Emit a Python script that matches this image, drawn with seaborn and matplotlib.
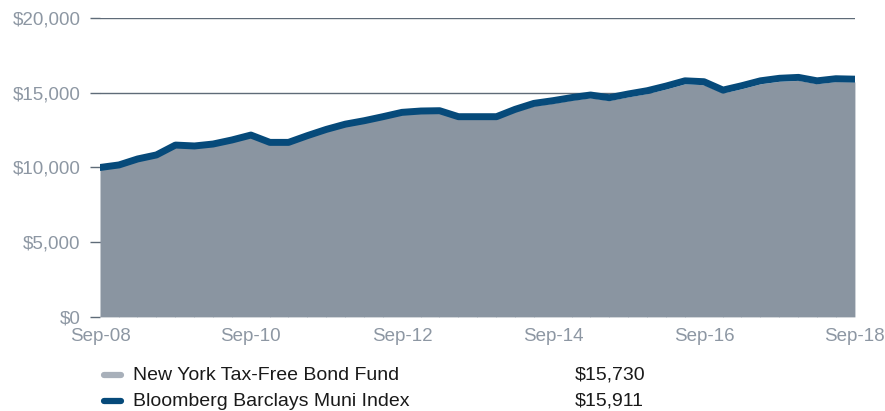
import pandas as pd
import numpy as np
import matplotlib
matplotlib.use("Agg")
import matplotlib.pyplot as plt
import matplotlib.dates as mdates
import seaborn as sns
from matplotlib.lines import Line2D
from matplotlib.ticker import FuncFormatter, MultipleLocator

# growth of $10,000, quarterly, Sep-08 .. Sep-18
quarters = pd.date_range("2008-09-30", "2018-09-30", freq="QE-SEP")
index_vals = [10000, 10170, 10570, 10840, 11500, 11440, 11570, 11840, 12170, 11680,
              11680, 12130, 12550, 12900, 13130, 13400, 13690, 13780, 13800, 13400,
              13400, 13400, 13890, 14290, 14470, 14680, 14850, 14670, 14920, 15140,
              15450, 15800, 15740, 15180, 15470, 15800, 15970, 16030, 15800, 15940,
              15911]
fund_vals = [10000, 10120, 10510, 10770, 11420, 11360, 11480, 11750, 12070, 11580,
             11580, 12020, 12440, 12780, 13010, 13270, 13560, 13640, 13660, 13260,
             13260, 13260, 13740, 14130, 14300, 14510, 14670, 14490, 14730, 14950,
             15250, 15600, 15540, 14990, 15270, 15600, 15770, 15830, 15610, 15750,
             15730]
series_names = ["New York Tax-Free Bond Fund", "Bloomberg Barclays Muni Index"]
ending_values = ["$15,730", "$15,911"]

df = pd.DataFrame({"date": quarters, "fund": fund_vals, "index": index_vals})

text_col = "#8d97a3"
grid_col = "#5f6b78"
area_col = "#8a95a1"
line_col = "#064a7a"

sns.set_theme(style="white")
plt.rcParams["font.family"] = ["Liberation Sans", "DejaVu Sans"]

fig = plt.figure(figsize=(8.85, 4.11), dpi=100)
ax = fig.add_axes([0.113, 0.229, 0.853, 0.727])

ax.fill_between(df["date"], 0, df["fund"], color=area_col, linewidth=0, zorder=2)
sns.lineplot(data=df, x="date", y="index", color=line_col, linewidth=5,
             ax=ax, zorder=3, legend=False)

ax.set_xlim(quarters[0], quarters[-1])
ax.set_ylim(0, 20000)
ax.yaxis.set_major_locator(MultipleLocator(5000))
ax.yaxis.set_major_formatter(FuncFormatter(lambda v, p: f"${v:,.0f}"))
ax.grid(axis="y", color=grid_col, linewidth=1, zorder=0)
ax.set_axisbelow(True)

ax.xaxis.set_major_locator(mdates.YearLocator(2, month=9, day=30))
ax.xaxis.set_major_formatter(mdates.DateFormatter("Sep-%y"))
ax.xaxis.set_minor_locator(mdates.MonthLocator(bymonth=[3, 6, 9, 12], bymonthday=30))

for s in ax.spines.values():
    s.set_visible(False)

ax.tick_params(axis="y", which="major", left=True, length=7, width=1, color=grid_col,
               labelsize=13.5, labelcolor=text_col, pad=7)
ax.tick_params(axis="x", which="major", bottom=False, labelsize=13.5,
               labelcolor=text_col, pad=2)
ax.tick_params(axis="x", which="minor", bottom=True, direction="in", length=3,
               width=0.6, color="#b4bcc5")
ax.set_xlabel("")
ax.set_ylabel("")

# legend rows below the chart
leg_cols = ["#a8b0ba", line_col]
for i, (name, val, c) in enumerate(zip(series_names, ending_values, leg_cols)):
    y = 1 - (375 + i * 26) / 411
    fig.add_artist(Line2D([104 / 885, 121 / 885], [y, y], transform=fig.transFigure,
                          color=c, linewidth=4.5, solid_capstyle="round"))
    fig.text(133 / 885, y, name, color="#1a1a1a", fontsize=14, va="center", ha="left")
    fig.text(575 / 885, y, val, color="#1a1a1a", fontsize=14, va="center", ha="left")

fig.savefig("out.png", dpi=100)
